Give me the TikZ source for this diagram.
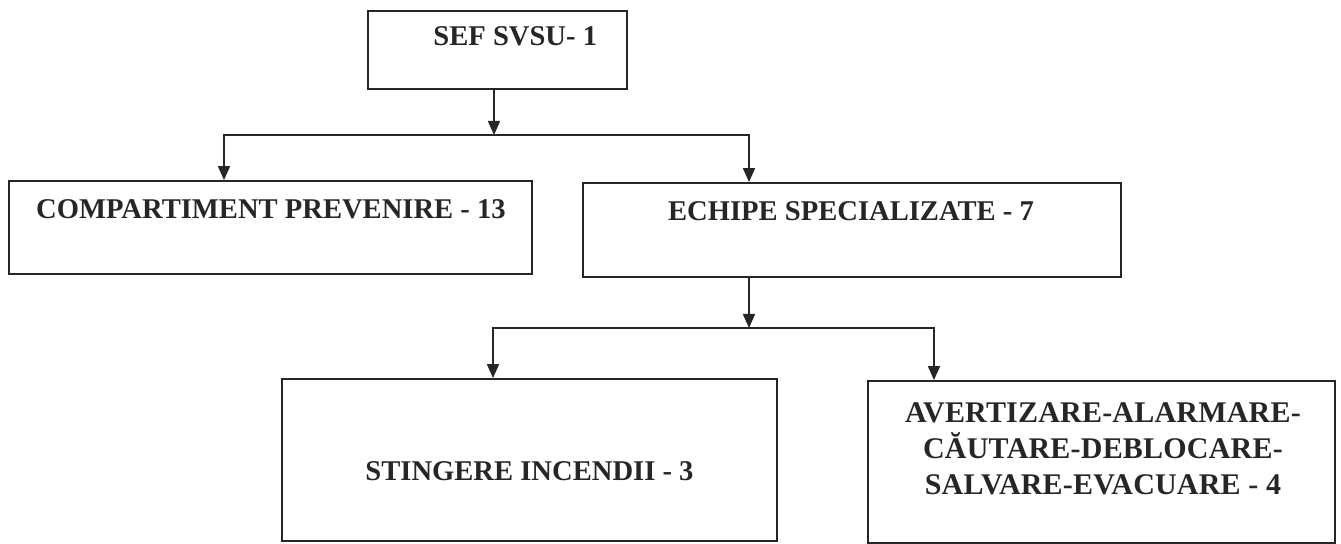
\documentclass[tikz,border=0pt]{standalone}
\usepackage{fontspec}
\setmainfont{Liberation Serif}
\usetikzlibrary{arrows.meta}
\definecolor{ink}{HTML}{262626}
\begin{document}
\begin{tikzpicture}[x=0.5pt,y=-0.5pt,
  box/.style={draw=ink,line width=0.9pt,minimum width=#1,inner sep=0pt,rectangle},
  lbl/.style={text=ink,inner sep=0pt,font=\fontsize{14.3}{18}\selectfont\bfseries},
  arr/.style={draw=ink,line width=0.8pt,-{Triangle[length=7pt,width=6pt]}}]
\useasboundingbox[fill=white] (0,0) rectangle (1341,544);
% boxes
\node[box=129.5pt,minimum height=39pt] (sef) at (497.5,50) {};
\node[box=261.5pt,minimum height=46.5pt] (comp) at (270.5,227.5) {};
\node[box=269pt,minimum height=47pt] (ech) at (852,230) {};
\node[box=247.5pt,minimum height=81pt] (sting) at (529.5,460) {};
\node[box=233.5pt,minimum height=81pt] (avert) at (1101.5,462) {};
% labels
\node[lbl,anchor=base west] (tsef) at (433,46) {SEF SVSU- 1};
\node[lbl,anchor=base] (tcomp) at (271,219) {COMPARTIMENT PREVENIRE - 13};
\node[lbl,anchor=base] (tech) at (851,221) {ECHIPE SPECIALIZATE - 7};
\node[lbl,anchor=base] (tsting) at (529.5,481) {STINGERE INCENDII - 3};
\node[lbl,anchor=north,align=center,
  font=\fontsize{15}{18}\selectfont\bfseries\addfontfeatures{LetterSpace=0.7}] (tavert) at (1103,402)
  {AVERTIZARE-ALARMARE-\\CĂUTARE-DEBLOCARE-\\SALVARE-EVACUARE - 4};
% connectors
\coordinate (j1) at (494,135);
\coordinate (xl) at (224,0);
\coordinate (xr) at (749,0);
\coordinate (j2) at (749,328);
\coordinate (xl2) at (493,0);
\coordinate (xr2) at (934,0);
\draw[arr] (sef.south -| j1) -- (j1);
\draw[arr] (j1) -| (comp.north -| xl);
\draw[arr] (j1) -| (ech.north -| xr);
\draw[arr] (ech.south -| j2) -- (j2);
\draw[arr] (j2) -| (sting.north -| xl2);
\draw[arr] (j2) -| (avert.north -| xr2);
\end{tikzpicture}
\end{document}
